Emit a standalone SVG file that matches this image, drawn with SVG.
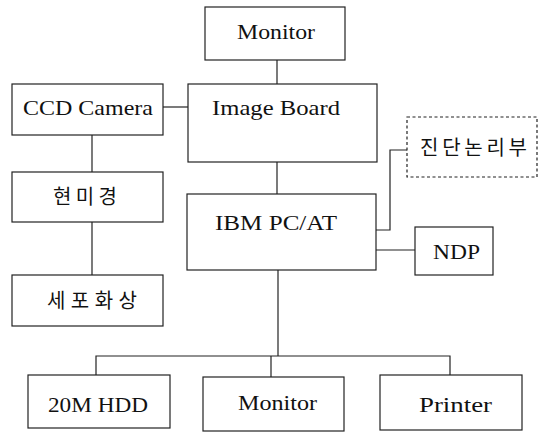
<svg xmlns="http://www.w3.org/2000/svg" width="544" height="433" viewBox="0 0 544 433">
<style>
.box{fill:#fff;stroke:#222;stroke-width:1.2}
.dot{fill:#fff;stroke:#222;stroke-width:1.2;stroke-dasharray:3 2.5}
.c{fill:none;stroke:#222;stroke-width:1.2}
.t{font-size:21px;fill:#111}
.k{font-size:20px;fill:#111}
</style>
<rect width="544" height="433" fill="#fff"/>
<g id="connectors">
<path class="c" d="M277,60V84"/>
<path class="c" d="M163,107H188"/>
<path class="c" d="M92,135V172"/>
<path class="c" d="M92,222V275"/>
<path class="c" d="M277,162V194"/>
<path class="c" d="M407,150H390V230H376"/>
<path class="c" d="M376,250H415"/>
<path class="c" d="M278,270V356"/>
<path class="c" d="M96,375V356H450V375"/>
<path class="c" d="M271,356V377"/>
</g>
<g font-family="'Liberation Serif', 'Times New Roman', 'DejaVu Serif', serif">
<g id="monitor-top"><rect class="box" x="205" y="7" width="140" height="53"/><text class="t" x="237" y="39" textLength="78" lengthAdjust="spacingAndGlyphs">Monitor</text></g>
<g id="ccd-camera"><rect class="box" x="12" y="84" width="151" height="51"/><text class="t" x="23" y="115" textLength="130" lengthAdjust="spacingAndGlyphs">CCD Camera</text></g>
<g id="image-board"><rect class="box" x="188" y="84" width="189" height="78"/><text class="t" x="212" y="115" textLength="128" lengthAdjust="spacingAndGlyphs">Image Board</text></g>
<g id="ibm-pc"><rect class="box" x="187" y="194" width="189" height="76"/><text class="t" x="215" y="230" textLength="122" lengthAdjust="spacingAndGlyphs">IBM PC/AT</text></g>
<g id="ndp"><rect class="box" x="415" y="227" width="78" height="48"/><text class="t" x="433" y="259" textLength="47" lengthAdjust="spacingAndGlyphs">NDP</text></g>
<g id="hdd"><rect class="box" x="28" y="375" width="142" height="53"/><text class="t" x="48" y="412" textLength="100" lengthAdjust="spacingAndGlyphs">20M HDD</text></g>
<g id="monitor-bottom"><rect class="box" x="203" y="377" width="141" height="54"/><text class="t" x="238" y="410" textLength="79" lengthAdjust="spacingAndGlyphs">Monitor</text></g>
<g id="printer"><rect class="box" x="380" y="375" width="142" height="55"/><text class="t" x="419" y="412" textLength="73" lengthAdjust="spacingAndGlyphs">Printer</text></g>
</g>
<g font-family="'Noto Sans CJK KR', 'Noto Sans CJK SC', sans-serif">
<g id="microscope"><rect class="box" x="12" y="172" width="151" height="50"/><text class="k" x="53" y="204" textLength="64" lengthAdjust="spacing">현미경</text></g>
<g id="cell-image"><rect class="box" x="12" y="275" width="151" height="51"/><text class="k" x="47" y="308" textLength="90" lengthAdjust="spacing">세포화상</text></g>
<g id="diagnosis"><rect class="dot" x="407" y="117" width="130" height="60"/><text class="k" x="420" y="155" textLength="107" lengthAdjust="spacing">진단논리부</text></g>
</g>
</svg>
